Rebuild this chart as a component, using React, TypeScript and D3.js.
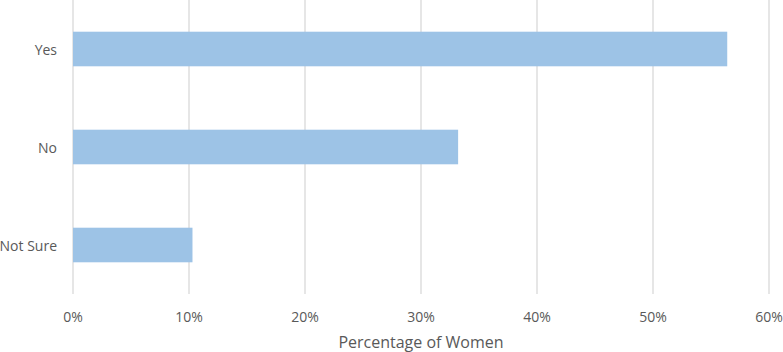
import React from "react";
import * as d3 from "d3";

const categories = ["Yes", "No", "Not Sure"];
const values = [56.4, 33.2, 10.3];
const ticks = [0, 10, 20, 30, 40, 50, 60];
const axisTitle = "Percentage of Women";

export default function App() {
  const W = 783, H = 352;
  const x = d3.scaleLinear().domain([0, 60]).range([73, 769]);
  const y = d3.scaleBand().domain(categories).range([0, 294]).paddingInner(0.647).paddingOuter(0.3235);
  const font = "'Open Sans', 'Liberation Sans', sans-serif";
  return (
    <svg width={W} height={H} style={{ position: "absolute", left: 0, top: 0, background: "#fff" }}>
      {ticks.map((t) => (
        <line key={t} x1={x(t)} x2={x(t)} y1={0} y2={294} stroke="#d9d9d9" strokeWidth={1.3} />
      ))}
      {categories.map((c, i) => (
        <rect key={c} x={x(0)} y={y(c)} width={x(values[i]) - x(0)} height={y.bandwidth()} fill="#9dc3e6" />
      ))}
      {categories.map((c) => (
        <text key={c} x={57} y={(y(c) as number) + y.bandwidth() / 2} textAnchor="end" dominantBaseline="central"
          fontFamily={font} fontSize={14} fill="#595959">{c}</text>
      ))}
      {ticks.map((t) => (
        <text key={t} x={x(t)} y={316} textAnchor="middle" dominantBaseline="central"
          fontFamily={font} fontSize={14} fill="#595959">{t + "%"}</text>
      ))}
      <text x={421} y={342} textAnchor="middle" dominantBaseline="central" fontFamily={font} fontSize={16} fill="#595959">{axisTitle}</text>
    </svg>
  );
}
